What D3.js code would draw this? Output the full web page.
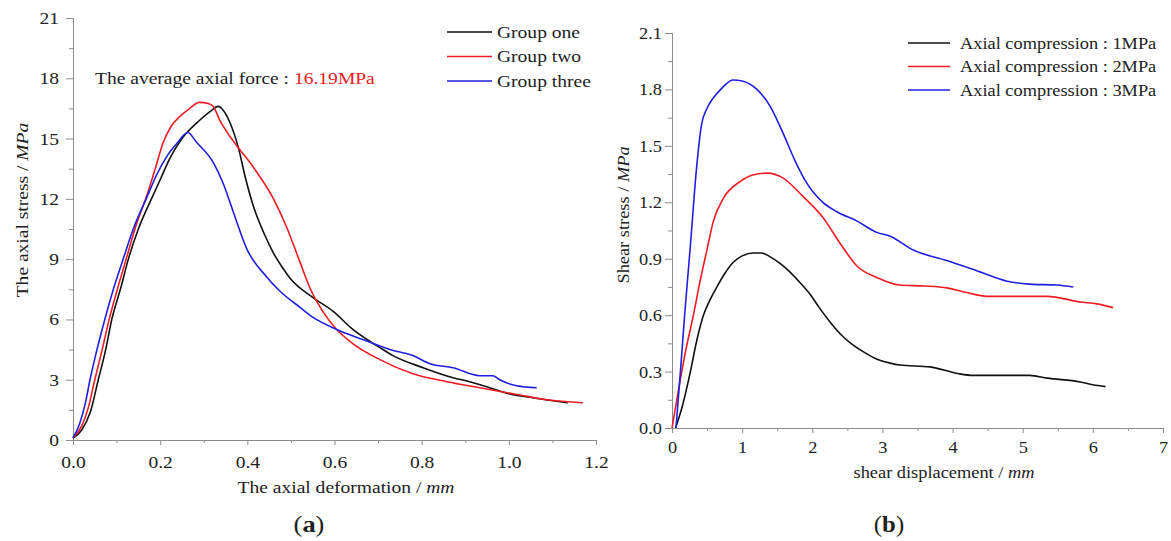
<!DOCTYPE html>
<html>
<head>
<meta charset="utf-8">
<script src="https://cdn.jsdelivr.net/npm/d3@7"></script>
<style>
  body { margin: 0; background: #fff; }
  text { font-family: "Liberation Serif", "Times New Roman", serif; fill: #222; }
</style>
</head>
<body>
<svg id="chart" width="1171" height="541"></svg>
<script>
// ---- panel (a): axial stress vs axial deformation ----
const groupNames = ["Group one", "Group two", "Group three"];
const groupOne = [[0,0.1],[0.02,0.5],[0.04,1.4],[0.058,3],[0.075,4.5],[0.089,6],[0.11,7.6],[0.127,9],[0.15,10.5],[0.18,12],[0.2,12.95],[0.222,14],[0.25,15],[0.29,15.9],[0.315,16.35],[0.333,16.6],[0.345,16.4],[0.36,15.8],[0.38,14.5],[0.395,13.1],[0.413,11.7],[0.44,10.2],[0.46,9.3],[0.48,8.6],[0.5,8.0],[0.55,7.1],[0.597,6.4],[0.642,5.5],[0.704,4.6],[0.734,4.2],[0.803,3.6],[0.872,3.1],[0.91,2.9],[0.956,2.6],[1.0,2.3],[1.055,2.1],[1.135,1.85]];
const groupTwo = [[0,0.1],[0.02,0.7],[0.035,1.6],[0.05,3],[0.067,4.5],[0.083,6],[0.103,7.6],[0.122,9],[0.145,10.7],[0.17,12.2],[0.19,13.6],[0.207,14.8],[0.225,15.6],[0.245,16.1],[0.265,16.45],[0.29,16.8],[0.31,16.75],[0.322,16.6],[0.337,15.9],[0.367,14.9],[0.413,13.6],[0.46,12.0],[0.49,10.6],[0.52,8.9],[0.545,7.5],[0.573,6.4],[0.605,5.5],[0.642,4.8],[0.704,4.0],[0.78,3.3],[0.858,2.9],[0.933,2.6],[1.01,2.3],[1.087,2.0],[1.17,1.85]];
const groupThree = [[0,0.1],[0.015,0.8],[0.028,1.8],[0.039,3],[0.055,4.5],[0.073,6],[0.094,7.6],[0.115,9],[0.14,10.6],[0.168,12],[0.192,13.2],[0.215,14.1],[0.24,14.8],[0.263,15.3],[0.284,14.8],[0.322,13.8],[0.344,12.8],[0.367,11.4],[0.399,9.5],[0.445,8.1],[0.475,7.4],[0.521,6.6],[0.551,6.1],[0.605,5.5],[0.665,5.0],[0.727,4.5],[0.78,4.2],[0.819,3.8],[0.872,3.6],[0.933,3.2],[0.963,3.2],[0.979,3.0],[1.018,2.7],[1.064,2.6]];
const aXTicks = [0, 0.2, 0.4, 0.6, 0.8, 1.0, 1.2];
const aYTicks = [0, 3, 6, 9, 12, 15, 18, 21];

// ---- panel (b): shear stress vs shear displacement ----
const pressureNames = ["Axial compression : 1MPa", "Axial compression : 2MPa", "Axial compression : 3MPa"];
const mpa1 = [[0.05,0],[0.15,0.12],[0.257,0.29],[0.35,0.46],[0.44,0.59],[0.54,0.68],[0.64,0.75],[0.75,0.82],[0.87,0.88],[1.0,0.915],[1.16,0.93],[1.28,0.93],[1.4,0.91],[1.54,0.875],[1.68,0.83],[1.82,0.775],[1.97,0.71],[2.1,0.64],[2.25,0.565],[2.4,0.5],[2.55,0.45],[2.73,0.405],[2.9,0.37],[3.11,0.345],[3.25,0.335],[3.68,0.325],[4.07,0.29],[4.29,0.28],[4.7,0.28],[5.1,0.28],[5.35,0.265],[5.82,0.245],[6.0,0.23],[6.18,0.22]];
const mpa2 = [[0,0],[0.11,0.24],[0.2,0.42],[0.3,0.59],[0.4,0.78],[0.5,0.95],[0.59,1.1],[0.73,1.22],[0.97,1.31],[1.15,1.345],[1.36,1.355],[1.58,1.33],[1.87,1.23],[2.15,1.12],[2.4,0.98],[2.64,0.86],[2.92,0.8],[3.25,0.76],[3.6,0.755],[3.92,0.745],[4.2,0.72],[4.49,0.7],[5.0,0.7],[5.35,0.7],[5.82,0.67],[6.06,0.66],[6.29,0.64]];
const mpa3 = [[0.057,0],[0.12,0.3],[0.18,0.6],[0.257,0.946],[0.352,1.39],[0.42,1.61],[0.5,1.7],[0.6,1.76],[0.72,1.81],[0.87,1.85],[1.0,1.845],[1.21,1.8],[1.4,1.71],[1.58,1.57],[1.78,1.4],[1.9,1.315],[2.0,1.26],[2.15,1.2],[2.35,1.15],[2.64,1.1],[2.92,1.04],[3.11,1.02],[3.44,0.946],[3.92,0.89],[4.39,0.83],[4.78,0.78],[5.1,0.765],[5.49,0.76],[5.72,0.75]];
const bXTicks = [0, 1, 2, 3, 4, 5, 6, 7];
const bYTicks = [0, 0.3, 0.6, 0.9, 1.2, 1.5, 1.8, 2.1];

const colors = ["#111111", "#ee1c24", "#1f1fe0"];
const axisColor = "#8c8c8c";
const svg = d3.select("#chart");

function mids(ticks) {
  return ticks.slice(1).map((t, i) => (t + ticks[i]) / 2);
}

function panel(opt) {
  const g = svg.append("g");
  const sx = opt.stretch;
  const x = d3.scaleLinear().domain(opt.xDomain).range(opt.xRange);
  const y = d3.scaleLinear().domain(opt.yDomain).range(opt.yRange);

  // text placed at (px,py), widened a bit like the source figure
  function label(px, py, rot) {
    return g.append("g")
      .attr("transform", `translate(${px},${py})${rot ? " rotate(" + rot + ")" : ""} scale(${sx},1)`)
      .append("text").attr("font-size", 17);
  }

  const xAxis = g.append("g").attr("transform", `translate(0,${opt.yRange[0]})`);
  xAxis.append("g").call(d3.axisBottom(x).tickValues(mids(opt.xTicks)).tickSize(3).tickSizeOuter(0).tickFormat(""));
  xAxis.append("g").call(d3.axisBottom(x).tickValues(opt.xTicks).tickSize(5).tickSizeOuter(0)
    .tickPadding(opt.xPad).tickFormat(opt.xFormat));

  const yAxis = g.append("g").attr("transform", `translate(${opt.xRange[0]},0)`);
  yAxis.append("g").call(d3.axisLeft(y).tickValues(mids(opt.yTicks)).tickSize(4).tickSizeOuter(0).tickFormat(""));
  yAxis.append("g").call(d3.axisLeft(y).tickValues(opt.yTicks).tickSize(7).tickSizeOuter(0)
    .tickPadding(opt.yPad).tickFormat(opt.yFormat));

  g.selectAll(".domain, .tick line").attr("stroke", axisColor);
  g.selectAll(".tick text")
    .attr("font-size", 17).attr("fill", "#222")
    .style("font-family", "'Liberation Serif', serif")
    .attr("x", function() { return (+this.getAttribute("x") || 0) / sx; })
    .attr("transform", `scale(${sx},1)`);

  const line = d3.line().x(d => x(d[0])).y(d => y(d[1])).curve(d3.curveMonotoneX);
  g.append("g").selectAll("path")
    .data(opt.series)
    .join("path")
    .attr("d", line)
    .attr("fill", "none")
    .attr("stroke", (d, i) => colors[i])
    .attr("stroke-width", 1.6);

  // axis titles
  const xt = label(opt.xTitlePos[0], opt.xTitlePos[1]).attr("text-anchor", "middle");
  xt.append("tspan").text(opt.xTitle);
  xt.append("tspan").attr("font-style", "italic").text("mm");

  const yt = label(opt.yTitlePos[0], opt.yTitlePos[1], -90).attr("text-anchor", "middle");
  yt.append("tspan").text(opt.yTitle);
  yt.append("tspan").attr("font-style", "italic").text("MPa");

  // legend
  const lg = g.append("g").selectAll("g")
    .data(opt.names)
    .join("g")
    .attr("transform", (d, i) => `translate(${opt.legend.x},${opt.legend.y + i * opt.legend.step})`);
  lg.append("line").attr("x1", 0).attr("x2", opt.legend.len)
    .attr("stroke", (d, i) => colors[i]).attr("stroke-width", 1.6);
  lg.append("text")
    .attr("transform", `translate(${opt.legend.len + opt.legend.gap},0) scale(${sx},1)`)
    .attr("dy", "0.35em").attr("font-size", 17).text(d => d);

  // panel letter
  const pl = label(opt.letterPos[0], opt.letterPos[1]).attr("text-anchor", "middle").attr("font-size", 23);
  pl.append("tspan").text("(");
  pl.append("tspan").attr("font-weight", "bold").text(opt.letter);
  pl.append("tspan").text(")");
  return { g, x, y, label };
}

const a = panel({
  stretch: 1.15,
  xDomain: [0, 1.2], xRange: [73, 596],
  yDomain: [0, 21], yRange: [440, 18],
  xTicks: aXTicks, yTicks: aYTicks,
  xFormat: d3.format(".1f"), yFormat: d3.format("d"),
  xPad: 11, yPad: 7,
  series: [groupOne, groupTwo, groupThree],
  names: groupNames,
  xTitle: "The axial deformation / ", xTitlePos: [346, 493],
  yTitle: "The axial stress / ", yTitlePos: [28, 210],
  legend: { x: 447, y: 32, step: 24.5, len: 45, gap: 5 },
  letter: "a", letterPos: [309, 532]
});

const note = a.label(95, 84);
note.append("tspan").text("The average axial force : ");
note.append("tspan").attr("fill", "#ee1c24").text("16.19MPa");

panel({
  stretch: 1.08,
  xDomain: [0, 7], xRange: [672, 1163],
  yDomain: [0, 2.1], yRange: [428, 33],
  xTicks: bXTicks, yTicks: bYTicks,
  xFormat: d3.format("d"), yFormat: d3.format(".1f"),
  xPad: 8, yPad: 3,
  series: [mpa1, mpa2, mpa3],
  names: pressureNames,
  xTitle: "shear displacement / ", xTitlePos: [944, 478],
  yTitle: "Shear stress / ", yTitlePos: [629, 215],
  legend: { x: 908, y: 43, step: 23.5, len: 42, gap: 10 },
  letter: "b", letterPos: [889, 532]
});
</script>
</body>
</html>
